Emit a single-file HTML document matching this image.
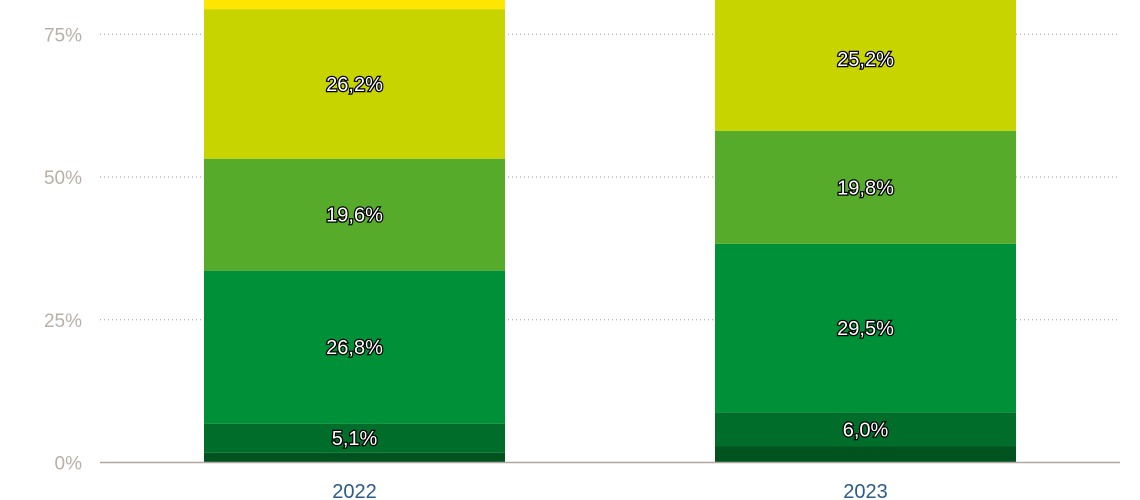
<!DOCTYPE html>
<html><head><meta charset="utf-8"><style>
html,body{margin:0;padding:0;background:#fff;width:1140px;height:500px;overflow:hidden}
svg text{font-family:"Liberation Sans",sans-serif}
</style></head><body>
<svg id="chart" width="1140" height="500"></svg>
<script>
const categories=["2022","2023"];
const s1=[1.7,2.8];
const s2=[5.1,6.0];
const s3=[26.8,29.5];
const s4=[19.6,19.8];
const s5=[26.2,25.2];
const s6=[20.6,16.7];
const seriesVals=[s1,s2,s3,s4,s5,s6];
const seriesColors=["#00531f","#006d2a","#009038","#57ab2a","#c8d400","#ffe600"];
const showLabel=[false,true,true,true,true,false];
const yTicks=[0,25,50,75];
const yTickLabels=["0%","25%","50%","75%"];
const NS="http://www.w3.org/2000/svg";
const svg=document.getElementById("chart");
const y0=462.5,pxPer=5.71;
const y=v=>y0-v*pxPer;
const xStart=[204,715],bw=301;
const x=i=>xStart[0]+i*(xStart[1]-xStart[0]);
function mk(t,a){const e=document.createElementNS(NS,t);for(const k in a)e.setAttribute(k,a[k]);svg.appendChild(e);return e;}
yTicks.forEach((t,i)=>{
 if(t>0){const g=mk("line",{x1:100,x2:1120,y1:y(t),y2:y(t),stroke:"#999","stroke-width":1,"stroke-dasharray":"1,3"});
 
 }
 const l=mk("text",{x:82,y:y(t)+7,"text-anchor":"end","font-size":19,fill:"#b8b0a8"});
 l.textContent=yTickLabels[i];
 
 
});
categories.forEach((c,i)=>{
 let cum=0;
 seriesVals.forEach((s,k)=>{
  const v=s[i];const top=y(cum+v),bot=y(cum);
  const r=mk("rect",{x:x(i),y:top,width:bw,height:bot-top,fill:seriesColors[k]});
  
  
  if(showLabel[k]){
   const t=mk("text",{x:x(i)+bw/2,y:(top+bot)/2+7,"text-anchor":"middle","font-size":20,fill:"#fff",stroke:"#000","stroke-width":2.5,"paint-order":"stroke"});
   t.textContent=v.toFixed(1).replace(".",",")+"%";
   
   
  }
  cum+=v;
 });
 const xl=mk("text",{x:x(i)+bw/2,y:498,"text-anchor":"middle","font-size":20,fill:"#2b5c8a"});
 xl.textContent=c;
 
 
});
const ax=mk("line",{x1:100,x2:1120,y1:462.5,y2:462.5,stroke:"#b0a8a0","stroke-width":1.5});


</script>
</body></html>
